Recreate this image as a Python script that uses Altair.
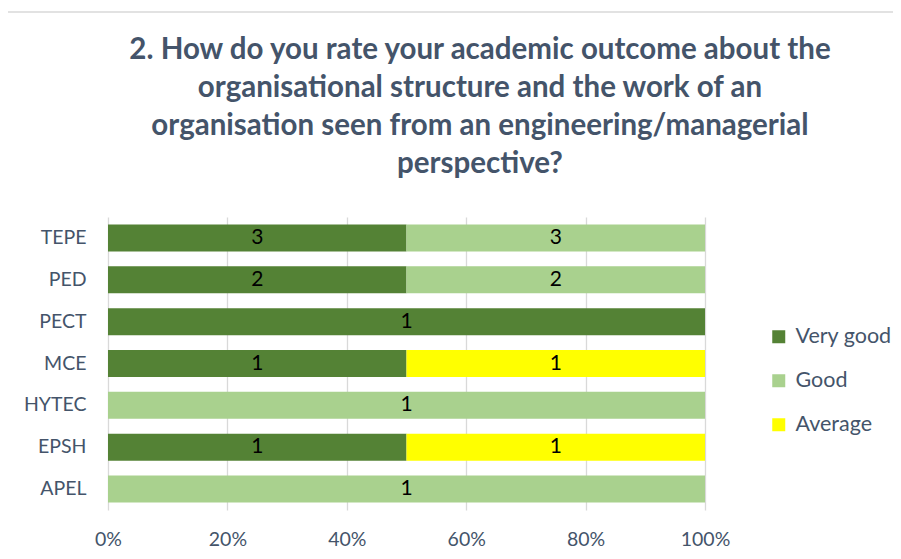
import altair as alt
import pandas as pd

categories = ["TEPE", "PED", "PECT", "MCE", "HYTEC", "EPSH", "APEL"]
ratings = ["Very good", "Good", "Average"]
very_good = [3, 2, 1, 1, 0, 1, 0]
good = [3, 2, 0, 0, 1, 0, 1]
average = [0, 0, 0, 1, 0, 1, 0]
x_ticks = [0, 0.2, 0.4, 0.6, 0.8, 1.0]
colors = ["#548235", "#A9D18E", "#FFFF00"]

title_lines = [
    "2. How do you rate your academic outcome about the",
    "organisational structure and the work of an",
    "organisation seen from an engineering/managerial",
    "perspective?",
]

rows = []
for i, c in enumerate(categories):
    for r, vals in enumerate([very_good, good, average]):
        if vals[i] > 0:
            rows.append({"cat": c, "rating": ratings[r], "rank": r, "count": vals[i]})
df = pd.DataFrame(rows)

FONT = "Lato"
TXT = "#44546A"

base = alt.Chart(df).transform_stack(
    stack="count",
    groupby=["cat"],
    sort=[alt.SortField("rank", order="ascending")],
    offset="normalize",
    as_=["x0", "x1"],
).transform_calculate(mid="(datum.x0 + datum.x1) / 2")

y_enc = alt.Y(
    "cat:N",
    sort=categories,
    title=None,
    scale=alt.Scale(paddingInner=0.355, paddingOuter=0.18),
    axis=alt.Axis(
        ticks=False, domain=False, labelFontSize=19.5, labelColor=TXT,
        labelFont=FONT, labelPadding=22,
    ),
)

bars = base.mark_bar().encode(
    x=alt.X(
        "x0:Q",
        scale=alt.Scale(domain=[0, 1]),
        title=None,
        axis=alt.Axis(
            format="%", values=x_ticks, ticks=False, domain=False, labelFlush=False,
            labelFontSize=19.5, labelColor=TXT, labelFont=FONT, labelPadding=20,
            grid=True, gridColor="#D9D9D9", gridWidth=1.3,
        ),
    ),
    x2="x1:Q",
    y=y_enc,
    color=alt.Color(
        "rating:N",
        scale=alt.Scale(domain=ratings, range=colors),
        legend=alt.Legend(
            title=None, orient="none", legendX=660, legendY=109,
            symbolType="square", symbolSize=169, symbolStrokeWidth=0,
            labelFontSize=21.5, labelColor=TXT, labelFont=FONT,
            rowPadding=21, labelOffset=6,
        ),
    ),
    order=alt.Order("rank:Q"),
)

labels = base.mark_text(fontSize=21, font=FONT, color="#000000", baseline="middle").encode(
    x=alt.X("mid:Q"),
    y=alt.Y("cat:N", sort=categories),
    text=alt.Text("count:Q"),
)

frame_df = pd.DataFrame({"a": [0]})
border_top = alt.Chart(frame_df).mark_rule(color="#D9D9D9", strokeWidth=1.3).encode(
    x=alt.value(-101), x2=alt.value(1000), y=alt.value(-205)
)
border_left = alt.Chart(frame_df).mark_rule(color="#D9D9D9", strokeWidth=1.3).encode(
    x=alt.value(-101), y=alt.value(-205), y2=alt.value(1000)
)

title = alt.Chart(pd.DataFrame({"t": [title_lines]})).mark_text(
    font=FONT, fontSize=29.5, fontWeight="bold", color=TXT, align="center",
    baseline="alphabetic", lineHeight=38,
).encode(
    text=alt.Text("t"), x=alt.value(372), y=alt.value(-158)
)

chart = alt.layer(border_top, border_left, title, bars, labels).properties(
    width=597,
    height=293,
    padding={"left": 100, "top": 209, "right": 188, "bottom": 40},
    autosize=alt.AutoSizeParams(type="none"),
).configure_view(stroke=None)

chart.save("out.html", embed_options={"renderer": "svg", "actions": False})
